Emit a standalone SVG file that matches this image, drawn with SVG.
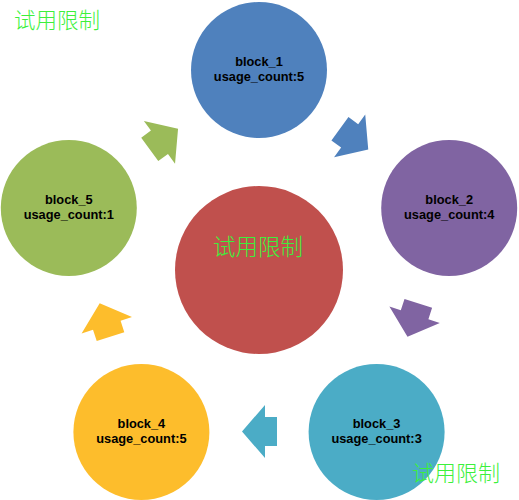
<svg xmlns="http://www.w3.org/2000/svg" width="519" height="500" viewBox="0 0 519 500">
<style>
.lbl{font-family:"Liberation Sans",Arial,sans-serif;font-weight:bold;font-size:12.8px;fill:#000;text-anchor:middle}
.wm{font-family:"Noto Sans CJK SC",sans-serif;font-size:21.5px;fill:#3CF03C;font-weight:300}
</style>
<defs>
<path id="arr" d="M17.5,0 L-5.5,-26.5 L-5.5,-14.5 L-17.5,-14.5 L-17.5,14.5 L-5.5,14.5 L-5.5,26.5 Z"/>
</defs>
<rect width="519" height="500" fill="#fff"/>
<g id="center"><circle cx="259" cy="270" r="84" fill="#C0504D"/></g>
<g id="connectors">
<use href="#arr" transform="translate(163.9,139.1) rotate(-36)" fill="#9BBB59"/>
<use href="#arr" transform="translate(354.1,139.1) rotate(36)" fill="#4F81BD"/>
<use href="#arr" transform="translate(412.9,320) rotate(108)" fill="#8064A2"/>
<use href="#arr" transform="translate(259.5,431.5) rotate(180)" fill="#4BACC6"/>
<use href="#arr" transform="translate(105.1,320) rotate(-108)" fill="#FDBD2C"/>
</g>
<g id="block_1"><circle cx="259" cy="70" r="68" fill="#4F81BD"/><text class="lbl" x="259" y="65.5">block_1</text><text class="lbl" x="259" y="80.5">usage_count:5</text></g>
<g id="block_2"><circle cx="449.2" cy="208" r="68" fill="#8064A2"/><text class="lbl" x="449.2" y="203.5">block_2</text><text class="lbl" x="449.2" y="218.5">usage_count:4</text></g>
<g id="block_3"><circle cx="376.6" cy="432" r="68" fill="#4BACC6"/><text class="lbl" x="376.6" y="427.5">block_3</text><text class="lbl" x="376.6" y="442.5">usage_count:3</text></g>
<g id="block_4"><circle cx="141.4" cy="432" r="68" fill="#FDBD2C"/><text class="lbl" x="141.4" y="427.5">block_4</text><text class="lbl" x="141.4" y="442.5">usage_count:5</text></g>
<g id="block_5"><circle cx="68.8" cy="208" r="68" fill="#9BBB59"/><text class="lbl" x="68.8" y="203.5">block_5</text><text class="lbl" x="68.8" y="218.5">usage_count:1</text></g>
<text class="wm" x="14" y="28">试用限制</text>
<text class="wm" x="213" y="255" style="font-size:22.5px">试用限制</text>
<text class="wm" x="412" y="481" style="font-size:22px">试用限制</text>
</svg>
